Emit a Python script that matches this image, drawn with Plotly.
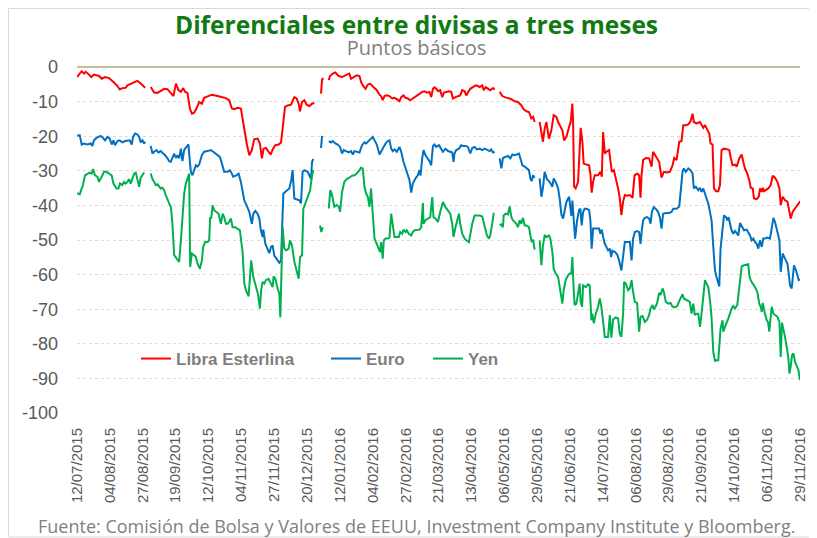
import pandas as pd
import plotly.graph_objects as go

# ---- tick labels (dates on the category axis) ----
tick_labels = ["12/07/2015", "04/08/2015", "27/08/2015", "19/09/2015", "12/10/2015",
               "04/11/2015", "27/11/2015", "20/12/2015", "12/01/2016", "04/02/2016",
               "27/02/2016", "21/03/2016", "13/04/2016", "06/05/2016", "29/05/2016",
               "21/06/2016", "14/07/2016", "06/08/2016", "29/08/2016", "21/09/2016",
               "14/10/2016", "06/11/2016", "29/11/2016"]
start_date = "2015-07-12"
y_ticks = [0, -10, -20, -30, -40, -50, -60, -70, -80, -90, -100]
y_tick_labels = ["0", "-10", "-20", "-30", "-40", "-50", "-60", "-70", "-80", "-90", "-100"]

# ---- Libra Esterlina (days since 12/07/2015, basis points; None = no data) ----
gbp_day = [0, 3.3, 4.9, 6.1, 8.4, 10, 11.9, 15.4, 17.3, 19.6, 22.4, 24.3, 25.9, 28.3, 29.9, 31.8, 34.1, 35.3,
           37.6, 40, 42.3, 44.6, 47.7, 49.5, 51.6, 54, 56.3, 58.6, 61, 63.3, 65.7, 67.5, 69.2, 71, 72.7, 74.3,
           75.7, 77.3, 79, 80.4, 82, 83.6, 85.5, 87.4, 89, 91.4, 94.4, 98.4, 101.9, 104.2, 106.5, 108.4, 110,
           112.4, 114.7, 115.9, 117.8, 118.9, 120.6, 122.4, 124, 126.4, 128, 129.4, 130.6, 132.2, 134.1, 135.7,
           136.9, 138.8, 141.1, 142.8, 143.9, 145.6, 147.4, 149.8, 152.1, 153.7, 155.1, 156.1, 157.5, 159.1,
           160.7, 162.6, 164.5, 166.1, 168.5, 170.8, 171.5, 172.4, 174, 176.2, 177.1, 179, 180.8, 183.2, 185.5,
           187.8, 190.6, 191.8, 193.5, 195.8, 197.7, 198.8, 200, 201.9, 203.5, 205.1, 207.5, 209.8, 211.7, 212.8,
           214, 215.2, 216.8, 218.7, 220.6, 222.2, 223.8, 225.7, 226.9, 228.5, 229.9, 231.5, 233.2, 235, 237.4,
           239.7, 241.6, 243.2, 244.9, 246.7, 247.9, 249.1, 250.2, 251.4, 252.8, 254.2, 255.6, 256.8, 258.4,
           260.3, 261.9, 263.1, 264.9, 266.6, 268.2, 269.6, 271.3, 272.4, 273.6, 275.2, 277.1, 279, 280.6, 281.8,
           283.6, 284.6, 286, 287.6, 289.2, 291.1, 292.3, 294, 295.8, 297.7, 299.3, 301.6, 304, 306.3, 308.6,
           311, 312.6, 314.5, 316.3, 318, 319.2, 320.3, 322, 323.8, 325, 326.1, 327.3, 328.5, 330.3, 332, 333.6,
           335.5, 336.7, 338.3, 339.7, 340.9, 342.5, 344.4, 345.5, 346.7, 347.2, 347.9, 349, 350.7, 351.8, 352.5,
           353.7, 354.6, 356.5, 358.4, 359.3, 360.2, 361.2, 362.4, 364.7, 366.3, 367.3, 368.2, 369.4, 370.5,
           372.4, 373.3, 374.3, 375.7, 377.1, 378.7, 379.9, 381, 382.2, 383.4, 385, 386.9, 388.8, 390.2, 392,
           393.4, 394.4, 395.1, 396.2, 398.1, 400.4, 402.1, 403.2, 405.1, 407.4, 409.1, 410.7, 412.6, 414.9,
           416.8, 418, 419.6, 421.5, 423.1, 424.3, 426.1, 427.8, 429.4, 430.8, 431.7, 433.6, 436, 437.1, 438.3,
           439.5, 441.1, 442.5, 443.4, 444.8, 445.8, 447.2, 448.8, 450, 451.1, 452.8, 455.1, 456.5, 457.4, 458.8,
           460.5, 461.7, 463.5, 465.2, 466.3, 467.5, 469.1, 470.5, 471.5, 472.9, 473.8, 475.7, 477.1, 478, 479.2,
           479.9, 480.8, 482.2, 483.8, 485.5, 486.9, 488.5, 490.2, 491.6, 492.5, 493.9, 495.5, 497.2, 498.6,
           499.5, 500.9, 502.5, 504.2, 505.6, 506]
gbp_val = [-2.9, -1.2, -1.9, -1.4, -2.2, -2.9, -2.2, -2.6, -3.4, -2.9, -3.2, -3.8, -4.5, -5.5, -6.5, -6.1, -6.0, -5.3,
           -4.8, -4.3, -4.0, -4.8, -6.0, None, -5.8, -7.4, -7.5, -7.0, -6.3, -6.4, -7.7, -8.4, -4.8, -6.7, -7.2, -6.1,
           -7.2, -7.5, -12, -13.5, -13.2, -12, -10.1, -10.6, -8.9, -8.4, -8.0, -8.4, -8.7, -9.0, -9.6, -12, -12.2,
           -11.8, -12, -14.9, -20.2, -22.4, -25.5, -24, -20.9, -20.7, -22.1, -26.4, -23.6, -23.4, -24.5, -25.3,
           -23.8, -22.6, -22.4, -21.8, -17.8, -11.5, -11.1, -10.9, -8.7, -9.1, -10.6, -12.8, -10.1, -9.6,
           -10.9, -11.3, -10.6, -10.4, None, -7.7, -3.6, -3.2, None, -3.8, -2.6, -1.9, -1.6, -2.6, -2.9,
           -2.4, -1.9, -3.4, -2.9, -2.4, -2.6, -4.3, -5.3, -6.3, -5.1, -4.8, -5.8, -6.7, -8, -8.4,
           -9.6, -8.4, -8.2, -8.4, -9.1, -8.9, -9.3, -9.9, -8.7, -8.2, -8.9, -9.1, -9.6, -9.1, -8.4,
           -7.7, -7.2, -7.0, -7.4, -7.2, -8.7, -6.3, -5.9, -6.3, -7.0, -6.7, -8.7, -7.4, -7.2,
           -7.0, -7.2, -9.1, -8.7, -8.4, -8.2, -6.7, -7.0, -8.2, -7.2, -6.3, -5.8, -5.3, -5.5, -5.8,
           -5.3, -6.7, -5.8, -6.3, -6.7, -6.1, -6.5, None, -7.2, -8.4, -8.7, -8.9, -9.3, -9.9, -10.1,
           -11.1, -12.2, -12.8, -13.0, -14.9, -14.4, -15.9, None, -15.9, -19.7, -21.6, -17.8, -15.9, -20.7, -18.3, -13.9,
           -14.4, -15.9, -17.3, -18.3, -21.2, -20.2, -17.3, -15.9, -10.6, -15.9, -34.6, -35.1, -33.2, -25.5, -17.6,
           -21.6, -27.9, -28.2, -28.4, -30.8, -36.3, -33.2, -31.3, -31.3, -30.3, -31.7, -18.8, -25, -24.5,
           -24, -27.4, -30.3, -29.8, -32.2, -35.1, -38, -42.8, -38.9, -37, -37.2, -37, -37.8, -31.3, -30.8,
           -31.3, -37.8, -31.3, -26.9, -26.3, -26.4, -28.8, -24.5, -26, -27.4, -32, -30.3, -30.5, -30.3,
           -28.4, -26.3, -26.9, -21.6, -21.4, -16.8, -16.8, -16.6, -15.7, -13.5, -15.9, -16.3, -15.9, -16.8, -17.6,
           -16.8, -18.3, -19.2, -22.1, -22.4, -35.1, -35.9, -35.9, -34.1, -24, -23.6, -23.8, -24, -26, -28.4,
           -28.2, -28.8, -26.4, -25.3, -27.4, -29.3, -30.8, -32.7, -34.9, -35.1, -38, -38.2, -37.5, -35.1, -36.1,
           -34.9, -35.9, -35.6, -35.1, -34.1, -31.4, -32, -33.2, -35.1, -39.9, -37.5, -38.5, -38.9, -41.8,
           -43.8, -41.8, -40.9, -39.7, -39.1, -39.4]

# ---- Euro ----
eur_day = [0, 1.9, 3.3, 4.9, 7.2, 9.6, 10.7, 11.9, 13.6, 15.4, 16.6, 18.2, 19.6, 21.3, 22.9, 24.3, 25.5, 26.6, 28.3,
           29.9, 31.8, 33.6, 35.3, 36.9, 38.3, 39.3, 40.7, 42.3, 43.5, 44.6, 45.8, 47, 47.7, 49.5, 51.6, 52.8, 54,
           55.6, 57, 58.6, 60.3, 61.7, 63.3, 64.5, 65.7, 66.8, 68, 69.2, 70.3, 71.5, 72.7, 73.8, 75, 76.6, 78, 79,
           79.7, 80.8, 82, 83.2, 84.3, 85.5, 87.4, 89, 91.4, 93.7, 96, 98.4, 100, 101.4, 103, 105.4, 107, 108.4,
           109.3, 111.2, 113.1, 114.7, 115.4, 117.1, 118.7, 120.6, 122.4, 123.4, 124.8, 126.4, 127.6, 128.7,
           129.9, 130.4, 131.8, 133.4, 134.6, 135.7, 136.9, 138.1, 139.3, 140.4, 141.6, 142.8, 143.5, 144.4,
           146.3, 148.6, 149.8, 150.9, 152.1, 153.7, 155.6, 156.8, 157.9, 159.1, 161.4, 162.6, 163.8, 164.5,
           165.4, 168, 170.8, 171.5, 174, 176.2, 177.8, 179, 180.8, 182.5, 184.1, 185.5, 186.7, 188.3, 190.2,
           191.8, 193, 194.2, 195.8, 197.7, 199.5, 201.2, 202.3, 204.2, 205.8, 207, 208.2, 209.8, 211.7, 212.8,
           214, 215.9, 217.5, 218.7, 219.9, 221, 222.2, 223.8, 225.7, 226.9, 228.5, 229.9, 231.5, 232.7, 233.9,
           235, 236.9, 238.5, 239.7, 240.4, 241.6, 242.5, 243.9, 245.6, 246.7, 247.9, 249.1, 250.2, 251.4,
           253.3, 254.9, 256.1, 257.9, 259.6, 261.2, 262.6, 263.5, 264.2, 265.4, 267.3, 268.9, 270.1, 272,
           273.6, 275.2, 276.6, 278.3, 279.9, 281.8, 283.6, 285.3, 286.9, 288.8, 289.9, 291.1, 292.3, 294,
           295.8, 297, 298.1, 300, 301.6, 303.3, 304.7, 306.3, 307.9, 309.3, 310.3, 311.7, 313.3, 314.9, 316.3,
           317.3, 318.2, 319.2, 320.3, 322, 323.8, 325, 326.1, 327.3, 328.9, 330.8, 332.7, 333.6, 335, 336.7,
           337.8, 339, 340.2, 341.3, 342.5, 344.4, 346, 346.7, 347.6, 348.6, 350, 351.4, 352.3, 353.2, 354.2,
           355.3, 356.5, 358.4, 359.3, 360.2, 361.2, 363.1, 365.4, 366.3, 367.3, 368.2, 369.4, 370.5, 371.7,
           372.9, 373.8, 374.7, 376.4, 378, 379.4, 381, 382.2, 383.4, 385, 386.9, 388.1, 389.2, 390.4, 392,
           393.4, 394.4, 395.3, 396.2, 397.4, 399, 400.4, 401.4, 402.3, 403.7, 405.1, 406.7, 407.9, 409.1,
           410.2, 412.1, 414.5, 416.1, 417.3, 419.6, 421.5, 422.4, 423.8, 424.7, 426.1, 427.8, 429.4, 430.8,
           431.7, 433.1, 434.8, 436, 437.1, 438.3, 439.5, 440.6, 441.8, 443.4, 444.1, 445.3, 446.5, 447.6,
           448.8, 449.5, 450.4, 451.8, 452.8, 454.2, 455.1, 456, 457.4, 458.1, 459.3, 460.5, 461.7, 462.8, 464,
           465.2, 466.8, 468.7, 469.8, 471, 472.2, 473.3, 474.5, 475.7, 476.8, 478, 479.2, 480.3, 481.5, 483.1,
           485, 486.2, 487.4, 488.5, 490.2, 491.6, 492.5, 493.9, 495.5, 497.2, 498.1, 499, 500.2, 500.9, 501.8,
           503.2, 504.2, 505.1, 506]
eur_val = [-19.9, -19.7, -22.4, -22.1, -22.4, -22.1, -22.8, -21.2, -20.5, -20.2, -19.9, -20.5, -21.2, -20.2, -20.7,
           -22.4, -21.2, -22.6, -21.4, -21.2, -21.8, -21.4, -21.4, -21.2, -22.4, -20.2, -19.2, -19.5, -20.2, -21.8,
           -21.2, -22.1, -21.6, None, -22.8, -25, -24.5, -24, -24.7, -24.3, -25, -25.5, -26.4, -27.2, -27.4,
           -26.4, -25, -26.3, -25.5, -26.4, -23.6, -27.2, -24, -23.1, -22.4, -27.4, -30.3, -31.3, -29.8, -28.4,
           -28.8, -28.2, -25.5, -24.5, -24.3, -24, -24.7, -25.5, -26, -27.9, -30.3, -30.3, -29.8, -30.8, -31.7,
           -31.4, -30.8, -33.2, -35.1, -38.6, -40, -41.9, -45.3, -42.4, -41.6, -42.4, -43.8, -47.2, -49.1, -47,
           -51.1, -53, -53.8, -52.1, -51.6, -54.5, -55.4, -55.9, -56.6, -55.9, -47.2, -36.6, -35.9, -35.1, -33,
           -29.8, -38, -38.2, -38.5, -39.4, -30.3, -29.8, -30.3, -31.3, -32.4, -27.4, -26.6, None, -23.4, -19.9,
           None, -21.4, -21.8, -21.4, -22.1, -22.4, -23.1, -25, -24, -24.3, -24.7, -24.3, -25.3, -24.3, -24.5,
           -24.7, -22.6, -21.8, -22.1, -21.2, -20.7, -20.2, -21.2, -22.4, -25.3, -24.5, -23.6, -22.1, -21.4,
           -21.2, -23.6, -24.3, -23.8, -24.5, -23.1, -24.5, -27.4, -29.3, -31.1, -32.7, -36.3, -33.7, -32.2,
           -31.3, -29.8, -31.4, -26.4, -24, -25.5, -26.4, -27.2, -28.4, -22.8, -22.4, -23.1, -22.6, -23.6,
           -24.5, -23.6, -24.3, -24.5, -24.7, -27.4, -25, -24, -23.6, -22.6, -22.8, -22.8, -23.1, -25, -23.4,
           -23.1, -23.8, -23.6, -24, -23.6, -24, -24.3, -23.8, -24.7, -24.5, None, -26.4, -29.3, -26.3, -26,
           -25.7, -26.4, -25.3, -25.5, -25.3, -25, -26.4, -28.4, -28.8, -29.3, -29.8, -32.2, -33, -31.3, -32,
           None, -32.2, -37.5, -34.9, -30.3, -32.4, -33.2, -34.6, -32.2, -33.2, -35.1, -38, -42.6, -43.8, -41,
           -39, -37.5, -43, -38.6, -44, -49.6, -44.3, -41.3, -41, -45.8, -41.9, -41, -41, -41.3, -44.3, -52.5,
           -46.7, -46.7, -46.7, -48.2, -47, -49.1, -51.1, -52, -53, -52.5, -54.9, -53.1, -53.4, -54.1, -55.9,
           -58.8, -55.4, -50.6, -50.6, -50.6, -55.9, -49.6, -47.7, -47.4, -47.7, -51.1, -47.2, -44.3, -43.6,
           -43.4, -43.8, -45.3, -41.9, -40.5, -41, -41.9, -43.4, -46.7, -42.4, -42.2, -42.2, -41.9, -41, -41,
           -40.3, -35.7, -30.3, -29.3, -30.3, -29.3, -29.8, -30.8, -35.1, -34.6, -35.6, -34.9, -36.1, -35.1,
           -37, -38, -39.4, -43.8, -44.3, -51.9, -58.8, -60.7, -62.6, -63.4, -52.5, -47.2, -42.9, -43.4, -44.3,
           -43.4, -45.8, -47.2, -48.2, -47.4, -48, -48.7, -45.1, -46.1, -47.2, -47, -47.7, -48.7, -50.1, -49.6,
           -50.6, -51.1, -52.5, -50.1, -52, -49.6, -49.6, -49.3, -49.6, -46.3, -43.6, -44.8, -48.2, -50.1,
           -59.2, -53.9, -55.4, -56.8, -59.7, -63.1, -64, -61.6, -57.3, -58.8, -60.2, -61.6, -61.4]

# ---- Yen ----
jpy_day = [0, 1.9, 3.3, 4.2, 5.6, 7.2, 8.9, 10.3, 11.2, 12.6, 14.3, 15.4, 16.6, 17.8, 18.9, 20.6, 22.4, 24.3, 25.5,
           26.6, 27.6, 29, 30.1, 31.8, 32.9, 34.1, 35.3, 36.4, 37.6, 38.8, 40, 41.1, 42.3, 43.5, 44.6, 45.8, 47,
           49.5, 51.6, 52.8, 54, 55.1, 56.3, 57.5, 58.6, 59.8, 61, 62.1, 63.3, 64.5, 65.7, 66.8, 68, 69.6, 71.5,
           72.7, 73.8, 75, 76.2, 77.3, 78.5, 79.2, 80.4, 82, 83.2, 84.3, 86, 87.4, 88.3, 89.7, 91.4, 92.5, 93.2,
           93.9, 94.9, 96, 97.2, 99.1, 100.7, 101.9, 103, 104.2, 105.4, 106.5, 107.7, 108.9, 110.7, 112.4, 114,
           114.7, 115.9, 117.1, 118.2, 120.1, 121, 121.9, 123.4, 125.2, 126.6, 128, 128.9, 129.9, 131.1, 132.2,
           134.1, 135.7, 136.9, 137.6, 138.8, 140.4, 141.6, 142.3, 143, 143.9, 145.1, 146.3, 148.1, 149.1, 150.5,
           152.1, 153.7, 155.1, 156.1, 157.5, 158.4, 159.8, 161.4, 163.1, 164.5, 165.4, 168, 170.1, 171, 172,
           174, 176.2, 177.3, 178.5, 180.1, 181.8, 183.2, 184.1, 185.5, 187.1, 188.8, 190.6, 192.5, 194.2,
           195.8, 197.7, 198.8, 200, 201.2, 202.3, 203.5, 204.7, 205.8, 207, 208.2, 209.8, 211.2, 212.1, 212.8,
           214, 214.7, 215.9, 217.5, 218.7, 219.9, 221, 222.2, 223.4, 225.2, 226.2, 227.6, 228.5, 229.9, 230.8,
           232.2, 233.9, 235, 236.2, 237.8, 239.7, 240.9, 242.1, 242.5, 243.9, 245.6, 247.2, 248.6, 249.5,
           250.9, 252.6, 254.2, 256.1, 257.9, 259.6, 261.2, 262.6, 263.5, 264.9, 265.9, 267.3, 268.2, 269.6,
           271.3, 272.4, 274.3, 275.2, 276.6, 278.3, 279.4, 281.8, 283.6, 285.3, 286.9, 288.3, 289.2, 290.6,
           291.6, 292.3, 294, 295.8, 297, 298.1, 298.6, 300, 301.6, 302.8, 304, 305.1, 306.3, 307.5, 308.6,
           309.8, 311, 312.1, 313.3, 314.5, 316.3, 317.3, 318.2, 319.2, 320.3, 322, 323.8, 325, 326.1, 327.3,
           328.9, 330.3, 331.3, 332.7, 333.6, 335, 336.7, 337.8, 339, 339.7, 340.6, 342, 343.7, 344.8, 346,
           346.7, 347.6, 348.3, 349.5, 350.7, 351.8, 352.5, 353.5, 354.2, 356.1, 357.7, 358.8, 360, 360.7,
           361.7, 363.1, 364.7, 365.9, 367, 368.2, 369.4, 371.7, 372.9, 374, 375.2, 377.1, 378.7, 379.9, 381,
           382.2, 382.9, 384.1, 385.7, 386.9, 388.1, 389.2, 390.4, 392, 393.4, 394.4, 395.8, 397.4, 399, 400.4,
           401.4, 402.8, 403.7, 405.1, 406, 407.4, 408.4, 409.8, 410.7, 412.1, 413.8, 415.4, 416.8, 418.4,
           420.1, 421.5, 422.4, 423.8, 424.7, 426.1, 427.8, 428.9, 430.1, 431.3, 432.4, 433.6, 434.8, 436,
           437.1, 438.3, 439.5, 440.6, 441.8, 443, 444.1, 445.3, 446.5, 448.8, 449.5, 450.4, 451.8, 452.3,
           453.5, 454.6, 455.8, 457, 458.1, 459.3, 460.5, 462.1, 463.1, 464, 465.2, 466.8, 468.7, 469.8, 470.5,
           471.5, 472.9, 474.5, 476.1, 477.5, 478.5, 479.2, 479.9, 480.8, 481.5, 482.7, 483.6, 484.5, 485.5,
           486.2, 487.4, 488.5, 490.2, 491.6, 492.5, 493.4, 494.4, 495.5, 496.7, 497.9, 498.6, 499.5, 500.4,
           501.4, 502.5, 503.7, 504.9, 506]
jpy_val = [-36.5, -36.8, -35.1, -34.1, -31.3, -30.8, -30.5, -30.8, -29.5, -31.3, -31.7, -33.2, -32, -31.3, -30.3,
           -30.3, -30.8, -31.4, -33.7, -34.6, -35.1, -35.1, -33.7, -34.1, -33.2, -33.7, -33.2, -32.4, -33.7,
           -32.2, -30.8, -30.5, -32.2, -34.6, -32, -31.3, -30.5, None, -30.8, -32.4, -33.2, -34.1, -33.9, -34.6,
           -35.1, -34.9, -35.6, -37, -38, -39.4, -40.5, -45.3, -54.4, -55.4, -56.3, -50.1, -44.3, -36.6, -33.7,
           -32, -30.8, -57.8, -53.9, -54.4, -54.9, -56.8, -58.3, -55.9, -52, -50.6, -50.6, -50.1, -43.4, -43.8,
           -40, -41.4, -41.9, -42.4, -45.3, -42.4, -43.4, -45.3, -45.3, -44.8, -43.8, -46.3, -46.3, -46.7,
           -47.2, -49.6, -53.5, -62.6, -64.5, -66.3, -59.8, -55.9, -60.7, -63.6, -65.5, -69.8, -64.5, -62.1,
           -62.6, -61.6, -61.2, -62.6, -63.6, -60.5, -61.2, -64, -65.5, -72.4, -61.9, -46.3, -52.5, -53, -52.5,
           -50.1, -51.6, -56.3, -58.8, -61.2, -54.9, -54.4, -41, -39.5, -38.1, -35.7, -31.3, -29.8, None, -45.8,
           -47.7, -46.3, None, -40.9, -35.6, -37, -40.4, -39.9, -40.4, -41.8, -36.1, -33.2, -32.4, -32, -31.4,
           -31.3, -30.8, -29.8, -29.1, -29.3, -34.6, -36.5, -37.5, -40.4, -35.1, -42.5, -49.6, -51.1, -52.9,
           -53.5, -50.6, -55.4, -50.1, -49.6, -49.6, -49.3, -42.4, -46.3, -49.1, -49.1, -49.1, -47.7, -48.2,
           -47, -47.7, -47.2, -48.2, -48.7, -47.7, -47.2, -47.2, -47, -46.3, -39.3, -45.3, -44.3, -43.8, -43.4,
           -37.6, -43.4, -43.8, -44.8, -41.9, -39, -40.5, -41.4, -42.4, -45.3, -49.1, -46.3, -44.3, -42.4,
           -45.3, -48.2, -49.6, -50.1, -50.6, -48.2, -45.3, -42.9, -42.9, -42.9, -43.2, -46.3, -48.7, -49.6,
           -48.7, -45.3, -42.4, -42.4, None, -45.8, -45.5, -46.3, -42.9, -42.4, -42.6, -40.3, -43.4, -44.3,
           -44.8, -45.3, -46.3, -44.3, -45.3, -43.6, -45.8, -45.8, -46.3, -48.2, -50.6, -49.9, -52.8, None,
           -50.1, -57.3, -51.6, -48.7, -49.1, -48.7, -49.6, -53.5, -58.3, -59.7, -60.7, -63.6, -67.5, -68.4,
           -64.5, -61.6, -60.2, -59.7, -59.7, -54.9, -64.5, -68.8, -68.4, -65.5, -62.6, -67.9, -69.3, -63.1,
           -63.6, -62.8, -63.1, -73.2, -71.3, -74.1, -71.3, -69.3, -66.9, -69.3, -73.2, -78, -78, -71.7, -78.2,
           -73, -72.4, -72.7, -77.2, -78, -71.3, -62.1, -62.6, -64.5, -64, -61.6, -65, -67.9, -68.2, -76.5,
           -72.2, -72, -73.7, -73, -71.7, -69.8, -68.8, -70.1, -69.1, -68.2, -65.3, -65.9, -64, -65, -67.9,
           -68.4, -68.2, -69.3, -69.5, -69.1, -67.6, -66.9, -65.7, -66.9, -67.2, -67.6, -67.9, -71.3, -68.4,
           -71.7, -71.3, -71.3, -75.1, -71.3, -66, -61.6, -62.6, -63.6, -67.4, -72.3, -82.3, -84.9, -84.7,
           -78.9, -75.6, -73.2, -76.5, -75.1, -74.1, -72.7, -71.3, -69.8, -69.1, -69.8, -68.8, -65.5, -61.6,
           -57.6, -57.3, -57, -57, -60.2, -61.6, -62.6, -63.6, -65, -68.4, -69.3, -70.8, -68.2, -70.3, -71.3,
           -73.2, -73.7, -76.5, -73.2, -69.3, -71.3, -71.7, -72.2, -73.7, -83.8, -73.9, -75.6, -78, -80.9,
           -84.2, -88.6, -86.6, -83.3, -82.8, -85.2, -86.2, -87.6, -90.5]

series = [
    ("Libra Esterlina", gbp_day, gbp_val, "#FF0000", "legend"),
    ("Euro", eur_day, eur_val, "#0070C0", "legend2"),
    ("Yen", jpy_day, jpy_val, "#00B050", "legend3"),
]

t0 = pd.Timestamp(start_date)
fig = go.Figure()
for name, days, vals, color, leg in series:
    x = t0 + pd.to_timedelta(days, unit="D")
    fig.add_trace(go.Scatter(x=x, y=vals, mode="lines", name="<b>" + name + "</b>",
                             line=dict(color=color, width=2), connectgaps=False,
                             legend=leg))

tick_dates = pd.to_datetime(tick_labels, format="%d/%m/%Y")

# page offset of the figure inside the browser page (default body margin)
OFF = 8
W, H = 817 - OFF, 538 - OFF
L, R, T, B = 77 - OFF, 17, 67 - OFF, 125
PW, PH = W - L - R, H - T - B


def px2paper_x(px):
    return (px - OFF - L) / PW


def px2paper_y(py):
    return (H - B - (py - OFF)) / PH


leg_common = dict(orientation="h", xref="paper", yref="paper", yanchor="middle",
                  xanchor="left", bgcolor="rgba(0,0,0,0)",
                  font=dict(family="Liberation Sans, Arial", size=17, color="#7F7F7F"))

title_block = ("<b><span style='font-size:24.5px;color:#127A12'>Diferenciales entre divisas a tres meses</span></b>"
               "<br><span style='font-size:20px;color:#808080'>Puntos básicos</span>")

fig.update_layout(
    width=W, height=H,
    margin=dict(l=L, r=R, t=T, b=B, autoexpand=False),
    paper_bgcolor="white", plot_bgcolor="white",
    showlegend=True,
    legend=dict(x=px2paper_x(136), y=px2paper_y(359), **leg_common),
    legend2=dict(x=px2paper_x(326), y=px2paper_y(359), **leg_common),
    legend3=dict(x=px2paper_x(428), y=px2paper_y(359), **leg_common),
    xaxis=dict(type="date", range=[tick_dates[0], tick_dates[-1]], tickmode="array",
               tickvals=tick_dates, ticktext=tick_labels, tickangle=-90, showgrid=False,
               showline=False, zeroline=False, ticks="", ticklabelstandoff=11, automargin=False,
               tickfont=dict(family="Liberation Sans, Arial", size=15, color="#595959")),
    yaxis=dict(range=[-100, 0], tickmode="array", tickvals=y_ticks, ticktext=y_tick_labels,
               showgrid=True, gridcolor="#E3DDC6",
               griddash="dot", gridwidth=1, zeroline=True, zerolinecolor="#C4BD97",
               zerolinewidth=2, showline=False, ticks="", ticklabelstandoff=18, automargin=False,
               tickfont=dict(family="Liberation Sans, Arial", size=18, color="#595959")),
    annotations=[
        dict(text=title_block, xref="paper", yref="paper",
             x=px2paper_x(416), y=px2paper_y(34.5), showarrow=False, xanchor="center", yanchor="middle",
             font=dict(family="Open Sans", size=16.5, color="#808080")),
        dict(text="Fuente: Comisión de Bolsa y Valores de EEUU, Investment Company Institute y Bloomberg.",
             xref="paper", yref="paper", x=px2paper_x(416), y=px2paper_y(526), showarrow=False,
             xanchor="center", yanchor="middle",
             font=dict(family="Open Sans", size=18, color="#7F7F7F")),
    ],
    shapes=[dict(type="rect", xref="paper", yref="paper",
                 x0=px2paper_x(8.5), x1=px2paper_x(810), y0=px2paper_y(537), y1=px2paper_y(8.5),
                 line=dict(color="#D9D9D9", width=1), fillcolor="rgba(0,0,0,0)", layer="below")],
)

fig.write_html("out.html")
